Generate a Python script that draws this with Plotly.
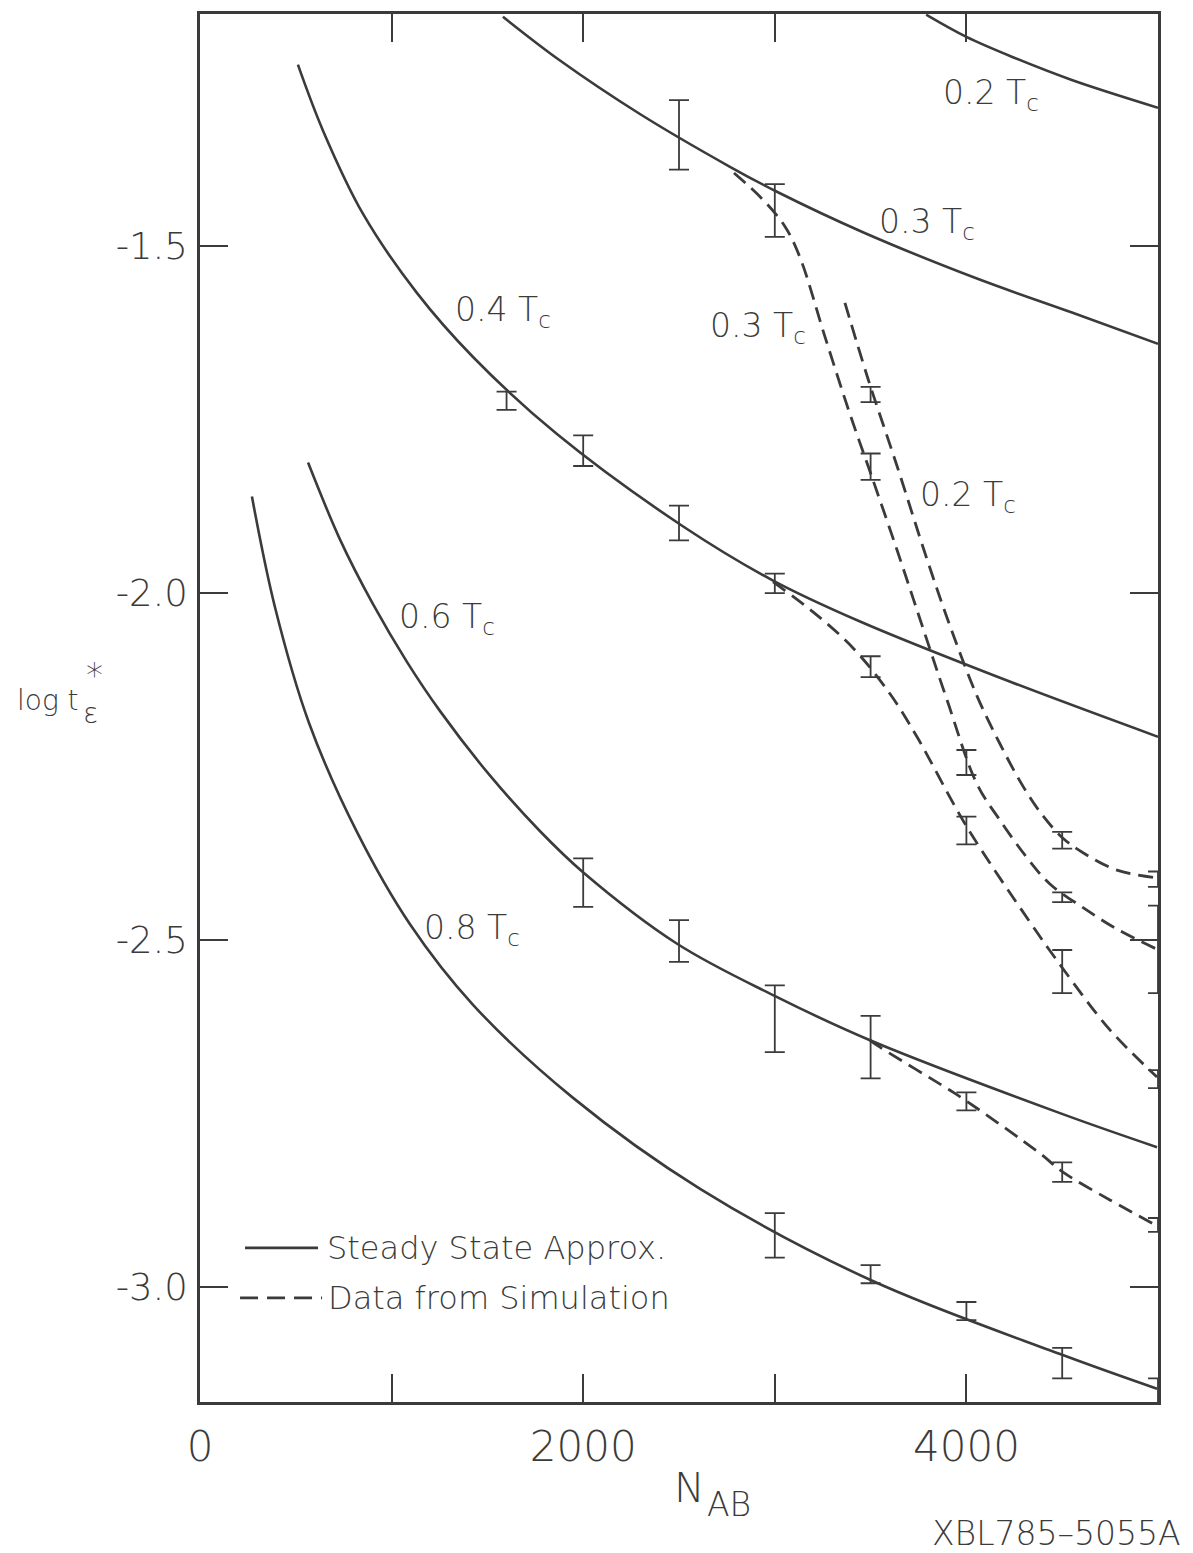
import plotly.graph_objects as go

INK = "#3b3b3b"
FONT = "DejaVu Sans"
WEIGHT = 200

# ---- steady-state approximation curves: log t*_eps versus N_AB ----
ss_02_n = [3790, 4000, 4250, 4550, 5000]
ss_02_y = [-1.167, -1.199, -1.229, -1.261, -1.301]

ss_03_n = [1581, 1879, 2296, 2766, 3011, 3466, 4055, 4551, 5000]
ss_03_y = [-1.170, -1.233, -1.310, -1.386, -1.422, -1.481, -1.547, -1.596, -1.641]

ss_04_n = [511, 642, 851, 1133, 1425, 1863, 2516, 2991, 3445, 4175, 5000]
ss_04_y = [-1.239, -1.334, -1.454, -1.568, -1.660, -1.771, -1.903, -1.982,
           -2.041, -2.122, -2.207]

ss_06_n = [564, 731, 903, 1080, 1253, 1514, 1775, 1999, 2490, 2991, 3497,
           4499, 4995]
ss_06_y = [-1.812, -1.923, -2.016, -2.099, -2.170, -2.263, -2.343, -2.402,
           -2.505, -2.579, -2.644, -2.750, -2.798]

ss_08_n = [271, 391, 569, 819, 1096, 1425, 1947, 2610, 3497, 4489, 4995]
ss_08_y = [-1.861, -2.020, -2.187, -2.344, -2.477, -2.593, -2.727, -2.858,
           -2.989, -3.096, -3.146]

# ---- simulation curves (dashed) ----
sim_02_n = [3366, 3486, 3638, 3794, 3914, 4055, 4175, 4295, 4400, 4504, 4609,
            4786, 4995]
sim_02_y = [-1.582, -1.691, -1.817, -1.951, -2.047, -2.148, -2.217, -2.278,
            -2.321, -2.353, -2.374, -2.399, -2.410]

sim_03_n = [2787, 2933, 3053, 3132, 3262, 3392, 3497, 3638, 3768, 3899, 4055,
            4175, 4316, 4436, 4609, 4786, 4995]
sim_03_y = [-1.395, -1.432, -1.472, -1.517, -1.631, -1.742, -1.825, -1.938,
            -2.046, -2.154, -2.275, -2.327, -2.381, -2.419, -2.453, -2.484,
            -2.513]

sim_04_n = [2991, 3199, 3408, 3601, 3742, 4003, 4332, 4504, 4749, 4995]
sim_04_y = [-1.984, -2.027, -2.079, -2.145, -2.207, -2.337, -2.474, -2.541,
            -2.629, -2.697]

sim_06_n = [3497, 3549, 3914, 4003, 4384, 4504, 4749, 5000]
sim_06_y = [-2.644, -2.654, -2.716, -2.732, -2.807, -2.834, -2.874, -2.912]

# ---- simulation points with error bars ----
pt_02_n = [3500, 4500, 5000]
pt_02_y = [-1.714, -2.356, -2.412]
pt_02_e = [0.011, 0.012, 0.011]

pt_03_n = [2500, 3000, 3500, 4000, 4500, 5000]
pt_03_y = [-1.340, -1.449, -1.818, -2.244, -2.438, -2.513]
pt_03_e = [0.050, 0.038, 0.019, 0.018, 0.007, 0.063]

pt_04_n = [1600, 2000, 2500, 3000, 3500, 4000, 4500, 5000]
pt_04_y = [-1.723, -1.795, -1.899, -1.986, -2.106, -2.342, -2.545, -2.700]
pt_04_e = [0.013, 0.022, 0.025, 0.014, 0.015, 0.020, 0.031, 0.013]

pt_06_n = [2000, 2500, 3000, 3500, 4000, 4500, 5000]
pt_06_y = [-2.417, -2.501, -2.613, -2.654, -2.732, -2.834, -2.910]
pt_06_e = [0.035, 0.030, 0.048, 0.045, 0.013, 0.014, 0.010]

pt_08_n = [3000, 3500, 4000, 4500, 5000]
pt_08_y = [-2.925, -2.981, -3.034, -3.109, -3.149]
pt_08_e = [0.032, 0.013, 0.013, 0.022, 0.018]

# ---- axis ticks ----
x_major = [0, 2000, 4000]
x_major_text = ["0", "2000", "4000"]
x_minor = [1000, 3000, 5000]
y_ticks = [-1.5, -2.0, -2.5, -3.0]
y_tick_text = ["-1.5", "-2.0", "-2.5", "-3.0"]

# ---- curve labels: (text, N, log t) ----
curve_labels = [
    ("0.2 T<sub>c</sub>", 3867, -1.282),
    ("0.3 T<sub>c</sub>", 3533, -1.468),
    ("0.3 T<sub>c</sub>", 2651, -1.618),
    ("0.2 T<sub>c</sub>", 3747, -1.861),
    ("0.4 T<sub>c</sub>", 1320, -1.595),
    ("0.6 T<sub>c</sub>", 1028, -2.037),
    ("0.8 T<sub>c</sub>", 1159, -2.484),
]


def font(size):
    return dict(family=FONT, size=size, color=INK, weight=WEIGHT)


fig = go.Figure()

solid = dict(color=INK, width=2.6, shape="spline", smoothing=1.0)
dashed = dict(color=INK, width=2.8, shape="spline", smoothing=1.0, dash="15px,8px")

for n, y in [(ss_02_n, ss_02_y), (ss_03_n, ss_03_y), (ss_04_n, ss_04_y),
             (ss_06_n, ss_06_y), (ss_08_n, ss_08_y)]:
    fig.add_trace(go.Scatter(x=n, y=y, mode="lines", line=solid,
                             showlegend=False, hoverinfo="skip"))

for n, y in [(sim_02_n, sim_02_y), (sim_03_n, sim_03_y),
             (sim_04_n, sim_04_y), (sim_06_n, sim_06_y)]:
    fig.add_trace(go.Scatter(x=n, y=y, mode="lines", line=dashed,
                             showlegend=False, hoverinfo="skip"))

for n, y, e in [(pt_02_n, pt_02_y, pt_02_e), (pt_03_n, pt_03_y, pt_03_e),
                (pt_04_n, pt_04_y, pt_04_e), (pt_06_n, pt_06_y, pt_06_e),
                (pt_08_n, pt_08_y, pt_08_e)]:
    fig.add_trace(go.Scatter(
        x=n, y=y, mode="markers",
        marker=dict(size=2, color="rgba(0,0,0,0)"),
        error_y=dict(type="data", array=e, visible=True, color=INK,
                     thickness=1.8, width=10),
        cliponaxis=False, showlegend=False, hoverinfo="skip"))

annotations = []
for text, n, y in curve_labels:
    annotations.append(dict(x=n, y=y, xref="x", yref="y", text=text,
                            showarrow=False, xanchor="left", yanchor="middle",
                            font=font(33)))

# legend drawn by hand: line samples + captions
annotations += [
    dict(x=650, y=-2.943, xref="x", yref="y", text="Steady State Approx.",
         showarrow=False, xanchor="left", yanchor="middle", font=font(32)),
    dict(x=660, y=-3.015, xref="x", yref="y", text="Data from Simulation",
         showarrow=False, xanchor="left", yanchor="middle", font=font(32)),
]
shapes = [
    dict(type="line", xref="x", yref="y", x0=235, x1=616, y0=-2.943, y1=-2.943,
         line=dict(color=INK, width=2.6)),
    dict(type="line", xref="x", yref="y", x0=209, x1=637, y0=-3.015, y1=-3.015,
         line=dict(color=INK, width=2.8, dash="18px,9px")),
]

# axis titles and figure id (positions in page pixels, origin bottom-left)
annotations += [
    dict(x=15, y=853, xref="pixel", yref="pixel", text="log t", showarrow=False,
         xanchor="left", yanchor="middle", font=font(28)),
    dict(x=84, y=878, xref="pixel", yref="pixel", text="*", showarrow=False,
         xanchor="left", yanchor="middle", font=font(34)),
    dict(x=81, y=840, xref="pixel", yref="pixel", text="\u03b5", showarrow=False,
         xanchor="left", yanchor="middle", font=font(28)),
    dict(x=672, y=65, xref="pixel", yref="pixel", text="N", showarrow=False,
         xanchor="left", yanchor="middle", font=font(41)),
    dict(x=705, y=49, xref="pixel", yref="pixel", text="AB", showarrow=False,
         xanchor="left", yanchor="middle", font=font(33)),
    dict(x=1183, y=20, xref="pixel", yref="pixel", text="XBL785\u20135055A",
         showarrow=False, xanchor="right", yanchor="middle", font=font(33)),
]

W, H = 1193, 1553
ML, MR, MT, MB = 200, 35, 14, 151
PW, PH = W - ML - MR, H - MT - MB
for a in annotations:
    if a.get("xref") == "pixel":
        a["xref"], a["yref"] = "paper", "paper"
        a["x"] = (a["x"] - ML) / PW
        a["y"] = (a["y"] - MB) / PH

axis_common = dict(showline=True, linecolor=INK, linewidth=2.5, mirror="ticks",
                   ticks="inside", ticklen=28, tickwidth=2, tickcolor=INK,
                   showgrid=False, zeroline=False)

fig.update_layout(
    width=W, height=H,
    margin=dict(l=ML, r=MR, t=MT, b=MB),
    paper_bgcolor="white", plot_bgcolor="white",
    xaxis=dict(range=[0, 5000], tickmode="array", tickvals=x_major,
               ticktext=x_major_text, tickfont=font(42), ticklabelstandoff=6,
               minor=dict(tickmode="array", tickvals=x_minor, ticks="inside",
                          ticklen=28, tickwidth=2, tickcolor=INK,
                          showgrid=False),
               **axis_common),
    yaxis=dict(range=[-3.165, -1.166], tickmode="array", tickvals=y_ticks,
               ticktext=y_tick_text, tickfont=font(37), ticklabelstandoff=2,
               **axis_common),
    annotations=annotations, shapes=shapes,
    showlegend=False,
)

fig.write_html("out.html")
